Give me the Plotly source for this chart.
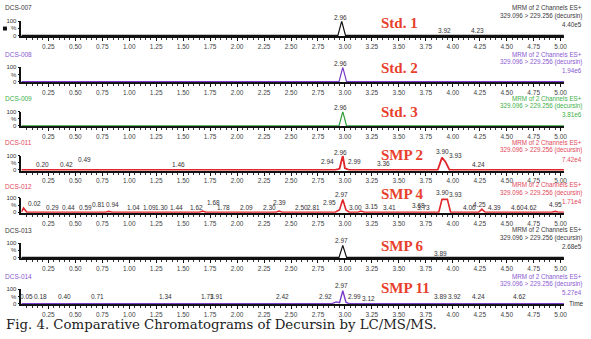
import plotly.graph_objects as go

W, H = 591, 339

# ---------------- data ----------------
panel_ids = ["DCS-007", "DCS-008", "DCS-009", "DCS-011", "DCS-012", "DCS-013", "DCS-014"]
sample_names = ["Std. 1", "Std. 2", "Std. 3", "SMP 2", "SMP 4", "SMP 6", "SMP 11"]
scale_values = ["4.40e5", "1.94e6", "3.81e6", "7.42e4", "1.71e4", "2.68e5", "5.27e4"]
channel_text = "MRM of 2 Channels ES+"
transition_text = "329.096 > 229.256 (decursin)"
caption_text = "Fig. 4. Comparative Chromatograms of Decursin by LC/MS/MS."

x_tick_values = [0.25, 0.50, 0.75, 1.00, 1.25, 1.50, 1.75, 2.00, 2.25, 2.50,
                 2.75, 3.00, 3.25, 3.50, 3.75, 4.00, 4.25, 4.50, 4.75, 5.00]
x_tick_labels = ["0.25", "0.50", "0.75", "1.00", "1.25", "1.50", "1.75", "2.00", "2.25", "2.50",
                 "2.75", "3.00", "3.25", "3.50", "3.75", "4.00", "4.25", "4.50", "4.75", "5.00"]
y_tick_values = [0, 50, 100]
y_tick_labels = ["0", "%", "100"]

# chromatogram traces (time, relative intensity %)
time_007 = [0.0, 2.935, 2.97, 3.005, 5.03]
rel_007 = [0, 0, 100, 0, 0]
time_008 = [0.0, 2.945, 2.98, 3.015, 5.03]
rel_008 = [0, 0, 100, 0, 0]
time_009 = [0.0, 2.945, 2.98, 3.015, 5.03]
rel_009 = [0, 0, 100, 0, 0]
time_011 = [0.0, 0.46, 0.49, 0.52, 2.91, 2.94, 2.95, 2.98, 3.00, 3.01, 3.04,
            3.86, 3.90, 3.93, 3.97, 5.03]
rel_011 = [0, 0, 5, 0, 0, 6, 10, 100, 12, 10, 0,
           0, 87, 60, 0, 0]
time_012 = [0.0, 0.02, 0.05, 0.78, 0.81, 0.84, 1.65, 1.68, 1.71, 2.36, 2.39, 2.42,
            2.91, 2.95, 2.98, 3.01, 3.04, 3.12, 3.15, 3.18, 3.87, 3.90, 3.95, 3.98,
            4.24, 4.27, 4.30, 4.92, 4.95, 4.98, 5.03]
rel_012 = [0, 30, 0, 0, 6, 0, 0, 8, 0, 0, 8, 0,
           0, 18, 90, 15, 0, 0, 8, 0, 0, 90, 90, 0,
           0, 22, 0, 0, 6, 0, 0]
time_013 = [0.0, 2.945, 2.98, 3.015, 5.03]
rel_013 = [0, 0, 85, 0, 0]
time_014 = [0.0, 2.88, 2.92, 2.95, 2.98, 3.01, 3.04, 3.86, 3.90, 3.94, 5.03]
rel_014 = [0, 0, 12, 6, 90, 8, 0, 0, 5, 0, 0]

# peak labels: retention time, label height (%), anchor side
rt_007 = [2.96, 3.92, 4.23]
lvl_007 = [124, 34, 34]
side_007 = ["c", "c", "c"]
rt_008 = [2.96]
lvl_008 = [128]
side_008 = ["c"]
rt_009 = [2.96]
lvl_009 = [126]
side_009 = ["c"]
rt_011 = [0.20, 0.42, 0.49, 1.46, 2.94, 2.96, 2.99, 3.36, 3.90, 3.93, 4.24]
lvl_011 = [41, 41, 76, 41, 60, 124, 57, 45, 126, 103, 41]
side_011 = ["c", "c", "l", "c", "r", "c", "l", "c", "c", "l", "c"]
rt_012 = [0.02, 0.29, 0.44, 0.59, 0.81, 0.94, 1.04, 1.09, 1.30, 1.44, 1.62, 1.68, 1.78,
          2.09, 2.30, 2.39, 2.50, 2.81, 2.95, 2.97, 3.00, 3.15, 3.41, 3.68, 3.73, 3.90,
          3.93, 4.06, 4.25, 4.39, 4.60, 4.62, 4.95]
lvl_012 = [62, 34, 34, 34, 55, 55, 34, 34, 34, 34, 34, 69, 34,
           34, 34, 69, 34, 34, 67, 124, 32, 43, 32, 50, 32, 136,
           124, 32, 55, 32, 32, 32, 55]
side_012 = ["l", "c", "c", "c", "r", "r", "c", "l", "c", "c", "c", "l", "l",
            "c", "c", "c", "l", "r", "r", "c", "l", "l", "c", "c", "c", "c",
            "l", "l", "c", "c", "c", "l", "c"]
rt_013 = [2.97, 3.89]
lvl_013 = [117, 28]
side_013 = ["c", "c"]
rt_014 = [0.05, 0.18, 0.40, 0.71, 1.34, 1.73, 1.91, 2.42, 2.92, 2.97, 2.99, 3.12,
          3.89, 3.92, 4.24, 4.62]
lvl_014 = [50, 50, 50, 50, 50, 50, 50, 50, 50, 124, 50, 34, 50, 50, 50, 50]
side_014 = ["c", "c", "c", "c", "c", "c", "r", "c", "r", "c", "l", "l",
            "c", "l", "c", "c"]

series = [
    (time_007, rel_007, rt_007, lvl_007, side_007),
    (time_008, rel_008, rt_008, lvl_008, side_008),
    (time_009, rel_009, rt_009, lvl_009, side_009),
    (time_011, rel_011, rt_011, lvl_011, side_011),
    (time_012, rel_012, rt_012, lvl_012, side_012),
    (time_013, rel_013, rt_013, lvl_013, side_013),
    (time_014, rel_014, rt_014, lvl_014, side_014),
]

# ---------------- style / layout ----------------
trace_colors = ["#111111", "#7a3cc8", "#2e9e3a", "#e0262a", "#e0262a", "#111111", "#7a3cc8"]
trace_widths = [1.2, 1.2, 1.2, 1.8, 1.6, 1.2, 1.4]
text_colors = ["#3a3a3a", "#8a5ad2", "#3cb048", "#e2485a", "#e2485a", "#3a3a3a", "#8a5ad2"]
baselines = [33, 80, 125, 170, 213, 259, 306]
id_y = [5, 52, 97, 142, 187, 232, 278]
name_y = [20, 66, 111, 155, 194, 247, 290]

NARROW = "Liberation Sans Narrow, Arial Narrow, Liberation Sans, Arial"
SANS = "Liberation Sans, Arial"
X0_PX, PX_PER_MIN = 21.5, 108.4
X_MAX = 5.035
PX_PER_PCT = 0.145


def px(x):
    return x / W


def py(y):
    return 1 - y / H


fig = go.Figure()
annotations = []
minor_vals = [round(0.05 * k, 2) for k in range(1, 101)]

for i, (t, r, rts, lvls, sides) in enumerate(series):
    n = i + 1
    xa = "x" if n == 1 else f"x{n}"
    ya = "y" if n == 1 else f"y{n}"
    fig.add_trace(go.Scatter(x=t, y=r, mode="lines", xaxis=xa, yaxis=ya,
                             line=dict(color=trace_colors[i], width=trace_widths[i]),
                             hoverinfo="skip", showlegend=False))
    bl = baselines[i]
    fig.layout[f"xaxis{'' if n == 1 else n}"] = dict(
        domain=[px(X0_PX), px(X0_PX + X_MAX * PX_PER_MIN)], anchor=ya,
        range=[0, X_MAX], showgrid=False, zeroline=False,
        showline=True, linecolor="#111111", linewidth=2, layer="below traces",
        ticks="outside", ticklen=3, tickwidth=1, tickcolor="#111111",
        tickmode="array", tickvals=x_tick_values, ticktext=x_tick_labels,
        tickfont=dict(family=NARROW, size=6.5, color="#444444"),
        minor=dict(tickmode="array", tickvals=minor_vals, ticks="outside",
                   ticklen=2, tickcolor="#333333", tickwidth=0.8),
    )
    fig.layout[f"yaxis{'' if n == 1 else n}"] = dict(
        domain=[py(bl + 4 * PX_PER_PCT), py(bl - 100 * PX_PER_PCT)], anchor=xa,
        range=[-4, 100], showgrid=False, zeroline=False,
        showline=True, linecolor="#111111", linewidth=1.5,
        ticks="outside", ticklen=2, tickcolor="#111111",
        tickmode="array", tickvals=y_tick_values, ticktext=y_tick_labels,
        tickfont=dict(family=NARROW, size=6, color="#333333"),
    )
    # peak labels (kept inside the axis range, lifted with a pixel shift)
    for rt, lv, sd in zip(rts, lvls, sides):
        anc = {"c": "center", "l": "left", "r": "right"}[sd]
        shift = {"c": 0, "l": 2, "r": -2}[sd]
        y_in = min(lv, 100)
        annotations.append(dict(
            x=rt, y=y_in, xref=xa, yref=ya, text=f"{rt:.2f}", showarrow=False,
            xanchor=anc, yanchor="middle", xshift=shift,
            yshift=(lv - y_in) * PX_PER_PCT,
            font=dict(family=NARROW, size=6.5, color="#333333")))
    # panel id
    annotations.append(dict(x=px(3), y=py(id_y[i]), xref="paper", yref="paper",
                            text=panel_ids[i], showarrow=False, xanchor="left", yanchor="middle",
                            font=dict(family=NARROW, size=6.5, color=text_colors[i])))
    # right-hand channel info
    for txt, dy in [(channel_text, 28), (transition_text, 20), (scale_values[i], 11)]:
        annotations.append(dict(x=px(587), y=py(bl - dy), xref="paper", yref="paper",
                                text=txt.replace(">", "&gt;"), showarrow=False,
                                xanchor="right", yanchor="middle",
                                font=dict(family=SANS, size=6.3, color=text_colors[i])))
    # sample name
    annotations.append(dict(x=px(381), y=py(name_y[i]), xref="paper", yref="paper",
                            text=f"<b>{sample_names[i]}</b>", showarrow=False,
                            xanchor="left", yanchor="middle",
                            font=dict(family="Liberation Serif, Times New Roman, serif",
                                      size=15, color="#e8402c")))

annotations.append(dict(x=px(570), y=py(baselines[-1]), xref="paper", yref="paper",
                        text="Time", showarrow=False, xanchor="left", yanchor="middle",
                        font=dict(family=NARROW, size=6.5, color="#333333")))
annotations.append(dict(x=px(4), y=py(327), xref="paper", yref="paper",
                        text=caption_text, showarrow=False, xanchor="left", yanchor="middle",
                        font=dict(family="DejaVu Serif, serif", size=13.3, color="#222222")))

fig.update_layout(
    width=W, height=H, margin=dict(l=0, r=0, t=0, b=0),
    paper_bgcolor="white", plot_bgcolor="white",
    annotations=annotations, showlegend=False,
    shapes=[dict(type="rect", xref="paper", yref="paper",
                 x0=px(3), x1=px(7), y0=py(28), y1=py(24),
                 fillcolor="#111111", line=dict(width=0))],
)

fig.write_html("out.html")
